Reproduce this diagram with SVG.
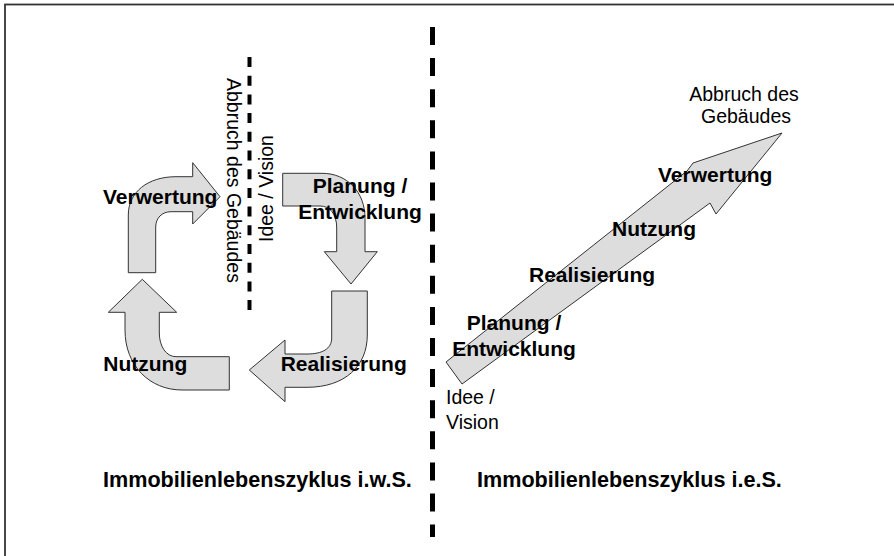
<svg xmlns="http://www.w3.org/2000/svg" width="894" height="556" viewBox="0 0 894 556">
<style>
.bg{fill:#fff}
.frame{fill:none;stroke:#333;stroke-width:1.8}
.arrow{fill:#dddddd;stroke:#333;stroke-width:1;stroke-linejoin:miter}
.b{font-family:"Liberation Sans",Arial,sans-serif;font-weight:bold;font-size:21px;fill:#000}
.t{font-family:"Liberation Sans",Arial,sans-serif;font-weight:bold;font-size:21.6px;fill:#000}
.n{font-family:"Liberation Sans",Arial,sans-serif;font-size:19.5px;fill:#000}
.dash-main{stroke:#000;stroke-width:5;stroke-dasharray:18 13.1;fill:none}
.dash-small{stroke:#000;stroke-width:4;stroke-dasharray:10 8.7;fill:none}
</style>
<rect class="bg" x="0" y="0" width="894" height="556"/>
<rect class="frame" x="5" y="4.5" width="900" height="560"/>
<g id="connectors">
<line class="dash-main" x1="432.5" y1="27" x2="432.5" y2="537"/>
<line class="dash-small" x1="249.5" y1="57" x2="249.5" y2="312"/>
</g>
<g id="arrow-verwertung">
<path class="arrow" d="M128.3,272.7 L128.3,215 C128.3,192 148,176.7 176,176.7 L192.7,176.7 L192.7,162.7 L220,196.7 L192.7,224 L192.7,211.7 L171,211.7 C162,211.7 155.7,218 155.7,227 L155.7,272.7 Z"/>
<text class="b" x="103" y="204">Verwertung</text>
</g>
<g id="arrow-planung">
<path class="arrow" d="M282.7,173.3 L322,173.3 C347,173.3 365,192 365,218 L365,251.7 L377.3,251.7 L351,284 L324.3,251.7 L336.7,251.7 L336.7,228 C336.7,214 330,206 320,206 L282.7,206 Z"/>
<text class="b" text-anchor="middle" x="360" y="193.3">Planung /</text>
<text class="b" text-anchor="middle" x="360" y="219.3">Entwicklung</text>
</g>
<g id="arrow-realisierung">
<path class="arrow" d="M331.7,291 L367.3,291 L367.3,335 C367.3,366 345,387.3 307,387.3 L285,387.3 L285,401.7 L249.3,370 L285,340 L285,354 L307,354 C322,354 331.7,349 331.7,338 Z"/>
<text class="b" x="280.7" y="371">Realisierung</text>
</g>
<g id="arrow-nutzung">
<path class="arrow" d="M229.3,356.7 L176,356.7 C166,356.7 159.3,346 159.3,333 L159.3,312.3 L176.7,312.3 L142.3,279.3 L108.3,312.3 L125,312.3 L125,330 C125,366 150,390 182,390 L229.3,390 Z"/>
<text class="b" x="103.3" y="371">Nutzung</text>
</g>
<g id="left-marks">
<text class="n" transform="translate(226.5,78) rotate(90)">Abbruch des Gebäudes</text>
<text class="n" transform="translate(273,242) rotate(-90)">Idee / Vision</text>
</g>
<g id="linear-arrow">
<path class="arrow" d="M446,362 L687,171 L693,163 L782,133 L716,214 L710,203 L462,384 Z"/>
</g>
<g id="linear-labels">
<text class="b" x="658" y="181.7">Verwertung</text>
<text class="b" x="612" y="235.7">Nutzung</text>
<text class="b" x="529" y="282.3">Realisierung</text>
<text class="b" text-anchor="middle" x="514" y="330">Planung /</text>
<text class="b" text-anchor="middle" x="514" y="355.7">Entwicklung</text>
<text class="n" x="446" y="404.3">Idee /</text>
<text class="n" x="446" y="429.3">Vision</text>
<text class="n" text-anchor="middle" x="744" y="100.7">Abbruch des</text>
<text class="n" text-anchor="middle" x="746" y="123.3">Gebäudes</text>
</g>
<g id="titles">
<text class="t" x="103" y="487">Immobilienlebenszyklus i.w.S.</text>
<text class="t" x="477" y="487">Immobilienlebenszyklus i.e.S.</text>
</g>
</svg>
